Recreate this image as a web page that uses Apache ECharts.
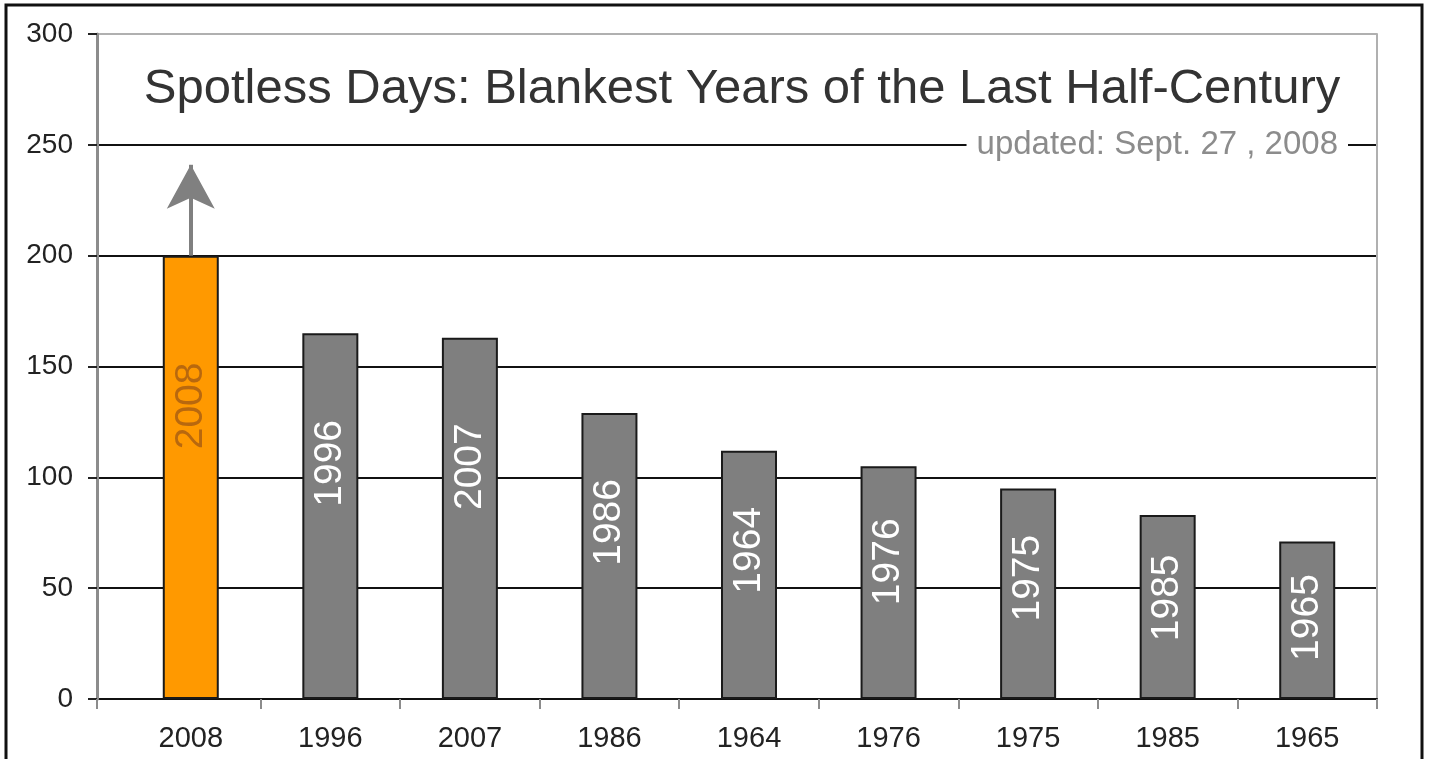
<!DOCTYPE html>
<html>
<head>
<meta charset="utf-8">
<script src="https://cdn.jsdelivr.net/npm/echarts@6/dist/echarts.min.js"></script>
<style>
html,body{margin:0;padding:0;background:#fff;}
#chart{width:1429px;height:759px;}
</style>
</head>
<body>
<div id="chart"></div>
<script>
// ---- data ----
const categories = ['2008','1996','2007','1986','1964','1976','1975','1985','1965'];
const spotlessDays = [200,165,163,129,112,105,95,83,71];
const highlightYear = '2008';
const arrowTipValue = 241;
const yTicks = [0,50,100,150,200,250,300];
const titleText = 'Spotless Days: Blankest Years of the Last Half-Century';
const updatedText = 'updated: Sept. 27 , 2008';

// ---- styles ----
const FONT = '"Liberation Sans", Arial, sans-serif';
const GRAY_BAR = '#7f7f7f';
const ORANGE_BAR = '#ff9900';
const ORANGE_LABEL = '#b8680e';
const GRID_LEFT = 97, GRID_RIGHT = 52, GRID_TOP = 34, GRID_BOTTOM = 60;
const BAR_LEFT = 121;

const barData = categories.map((c, i) => {
  const hi = c === highlightYear;
  return {
    value: spotlessDays[i],
    itemStyle: { color: hi ? ORANGE_BAR : GRAY_BAR },
    label: { color: hi ? ORANGE_LABEL : '#ffffff' }
  };
});

const chart = echarts.init(document.getElementById('chart'), null, {renderer:'canvas'});
const option = {
  animation: false,
  backgroundColor: '#ffffff',
  textStyle: { fontFamily: FONT },
  title: [
    {
      text: titleText,
      left: 737, top: 60, textAlign: 'center',
      textStyle: { fontFamily: FONT, fontSize: 49, fontWeight: 'normal', color: '#333333' }
    },
    {
      text: updatedText,
      right: 81, top: 128,
      padding: [0, 10, 0, 10],
      backgroundColor: '#ffffff',
      textStyle: { fontFamily: FONT, fontSize: 33, fontWeight: 'normal', color: '#8c8c8c' }
    }
  ],
  grid: [
    { left: GRID_LEFT, right: GRID_RIGHT, top: GRID_TOP, bottom: GRID_BOTTOM, containLabel: false },
    { left: BAR_LEFT, right: GRID_RIGHT, top: GRID_TOP, bottom: GRID_BOTTOM, containLabel: false }
  ],
  xAxis: [
    {
      gridIndex: 0, type: 'value', min: 0, max: 1, interval: 1,
      axisLine: { show: false },
      axisTick: { show: true, length: 10, lineStyle: { color: '#8c8c8c', width: 2 } },
      axisLabel: { show: false },
      splitLine: { show: false }
    },
    {
      gridIndex: 1, type: 'category', data: categories,
      axisLine: { show: true, lineStyle: { color: '#111111', width: 2 } },
      axisTick: {
        show: true, length: 10, alignWithLabel: false,
        interval: function (idx) { return idx !== 0; },
        lineStyle: { color: '#8c8c8c', width: 2 }
      },
      axisLabel: { fontFamily: FONT, fontSize: 29, color: '#222222', margin: 25 },
      splitLine: { show: false }
    }
  ],
  yAxis: [
    {
      gridIndex: 0, type: 'value', min: 0, max: 300, interval: 50,
      axisLine: { show: true, lineStyle: { color: '#8c8c8c', width: 3 } },
      axisTick: { show: true, inside: false, length: 9, lineStyle: { color: '#222222', width: 2 } },
      axisLabel: { fontFamily: FONT, fontSize: 28, color: '#222222', margin: 24 },
      splitLine: { show: true, lineStyle: { color: ['#111111','#111111','#111111','#111111','#111111','#111111','#b0b0b0'], width: 2 } }
    },
    {
      gridIndex: 0, type: 'value', min: 0, max: 300, interval: 50, position: 'right',
      axisLine: { show: true, lineStyle: { color: '#b0b0b0', width: 2 } },
      axisTick: { show: false }, axisLabel: { show: false }, splitLine: { show: false }
    },
    {
      gridIndex: 1, type: 'value', min: 0, max: 300, interval: 50, show: false
    }
  ],
  series: [
    {
      type: 'bar',
      xAxisIndex: 1, yAxisIndex: 2,
      data: barData,
      barWidth: 56,
      itemStyle: { borderColor: '#1a1a1a', borderWidth: 2 },
      label: {
        show: true,
        formatter: '{b}',
        rotate: 90,
        position: ['50%', '26%'],
        offset: [-35, 0],
        align: 'center',
        verticalAlign: 'middle',
        fontFamily: FONT,
        fontSize: 39
      },
      markLine: {
        silent: true,
        animation: false,
        label: { show: false },
        lineStyle: { color: '#808080', width: 4, type: 'solid' },
        data: [[
          { coord: [highlightYear, spotlessDays[categories.indexOf(highlightYear)]], symbol: 'none' },
          { coord: [highlightYear, arrowTipValue], symbol: 'arrow', symbolSize: [36, 44] }
        ]]
      }
    }
  ],
  graphic: [
    {
      type: 'rect', z: 100, silent: true,
      shape: { x: 6, y: 5, width: 1416, height: 800 },
      style: { fill: 'none', stroke: '#111111', lineWidth: 3 }
    }
  ]
};
chart.setOption(option);
</script>
</body>
</html>
